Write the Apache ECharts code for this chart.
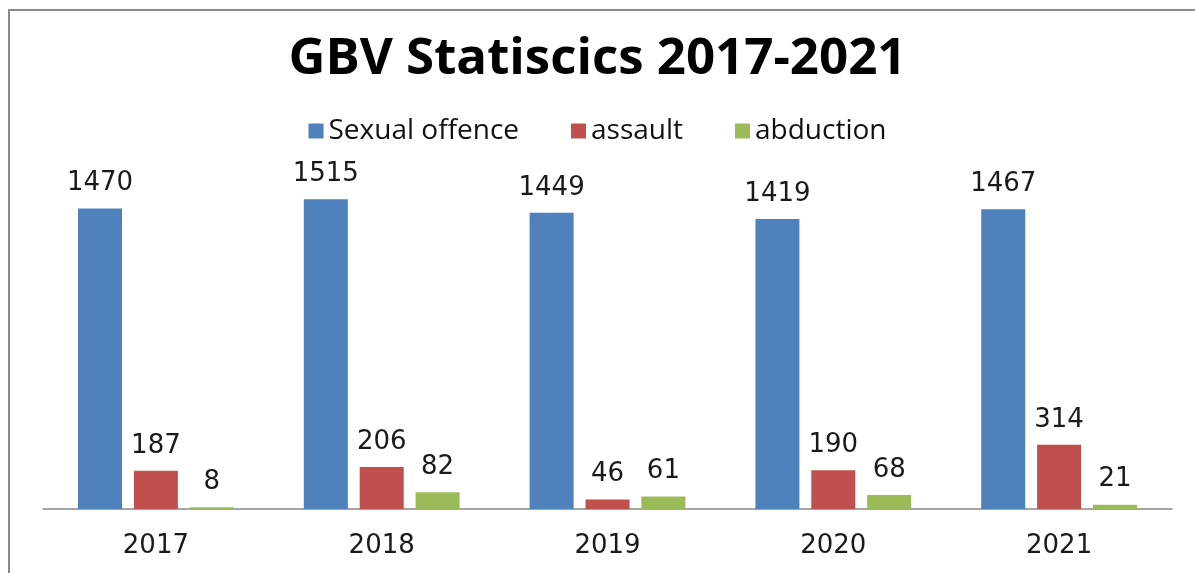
<!DOCTYPE html>
<html>
<head>
<meta charset="utf-8">
<script src="https://cdn.jsdelivr.net/npm/echarts@6/dist/echarts.min.js"></script>
<style>
html,body{margin:0;padding:0;background:#fff;}
#main{width:1195px;height:573px;}
</style>
</head>
<body>
<div id="main"></div>
<script>
// data
var years = ['2017', '2018', '2019', '2020', '2021'];
var sexualOffence = [1470, 1515, 1449, 1419, 1467];
var assault = [187, 206, 46, 190, 314];
var abduction = [8, 82, 61, 68, 21];

var chart = echarts.init(document.getElementById('main'));

function lbl(){
	return {
		show: true,
		position: 'top',
		distance: 12,
		fontFamily: 'DejaVu Sans',
		fontSize: 26,
		color: '#1a1a1a'
	};
}

chart.setOption({
	animation: false,
	graphic: [{
		type: 'rect',
		shape: {x: 9, y: 10, width: 1200, height: 580},
		style: {fill: 'none', stroke: '#8a8a8a', lineWidth: 2},
		silent: true
	}],
	title: {
		text: 'GBV Statiscics 2017-2021',
		left: 'center',
		top: 29,
		textStyle: {fontFamily: 'Open Sans', fontWeight: 'bold', fontSize: 51, color: '#000'}
	},
	legend: {
		top: 112,
		left: 'center',
		itemWidth: 15,
		itemHeight: 15,
		itemGap: 52,
		icon: 'rect',
		textStyle: {fontFamily: 'Open Sans', fontSize: 28, color: '#111'},
		data: ['Sexual offence', 'assault', 'abduction']
	},
	grid: {left: 43, right: 23, top: 182, bottom: 64},
	xAxis: {
		type: 'category',
		data: years,
		axisLine: {lineStyle: {color: '#888', width: 1.5}},
		axisTick: {show: false},
		axisLabel: {fontFamily: 'DejaVu Sans', fontSize: 26, color: '#1a1a1a', margin: 24}
	},
	yAxis: {
		type: 'value',
		min: 0,
		max: 1600,
		show: false
	},
	series: [
		{name: 'Sexual offence', type: 'bar', data: sexualOffence, itemStyle: {color: '#4F81BD'}, label: lbl(), barWidth: 44, barGap: '27%'},
		{name: 'assault', type: 'bar', data: assault, itemStyle: {color: '#C0504D'}, label: lbl(), barWidth: 44, barGap: '27%'},
		{name: 'abduction', type: 'bar', data: abduction, itemStyle: {color: '#9BBB59'}, label: lbl(), barWidth: 44, barGap: '27%'}
	]
});
</script>
</body>
</html>
